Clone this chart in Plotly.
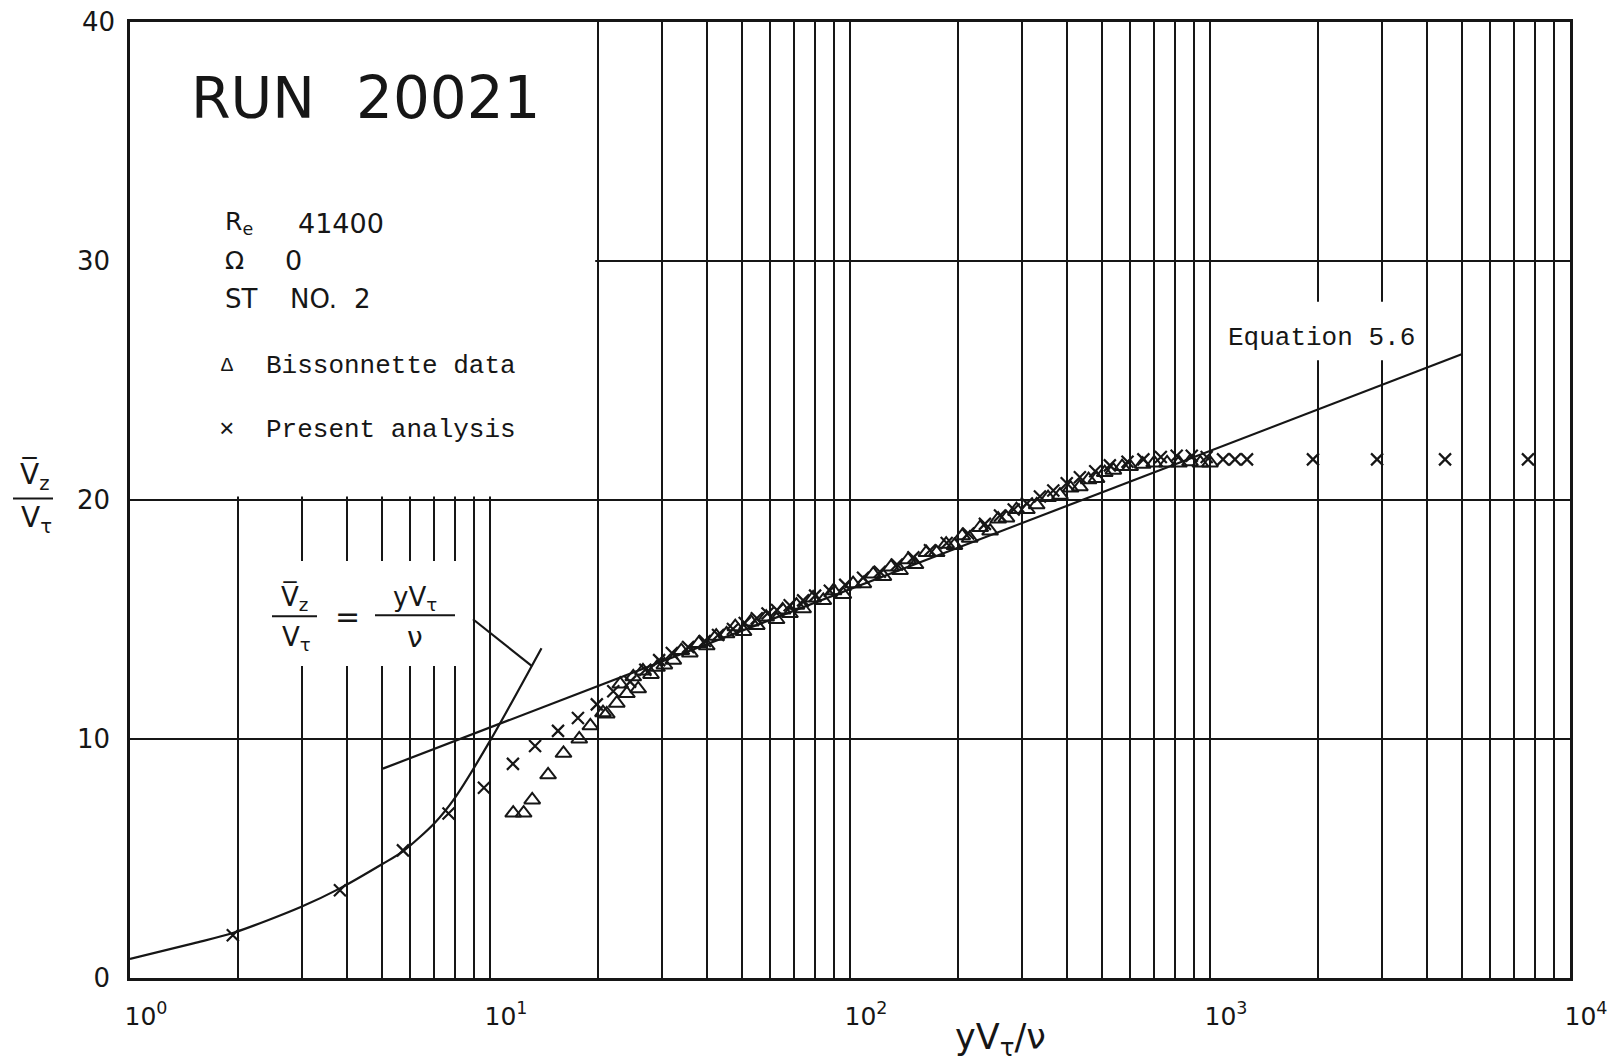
import plotly.graph_objects as go

# ---------------- data ----------------
# curve  Vz/Vtau = y Vtau / nu  (viscous sublayer)
lin_x = [1.0, 1.5, 1.93, 2.97, 3.83, 5.05, 5.73, 7.03, 8.0, 10.0, 13.9]
lin_y = [0.8, 1.45, 1.88, 2.96, 3.75, 4.79, 5.3, 6.5, 7.55, 9.92, 13.8]

# Equation 5.6 (log law, straight on the log axis)
eq_x = [5.04, 5000]
eq_y = [8.76, 26.1]

# Bissonnette data (triangles)
bis_x = [11.6, 12.4, 13.1, 14.5, 16.0, 17.7, 19.0, 20.6, 21.1, 22.5,
         23.0, 24.0, 25.0, 25.8, 26.6, 28.0, 29.1, 30.5, 32.3, 34.0,
         35.9, 38.0, 40.0, 42.5, 45.4, 48.0, 50.6, 53.0, 55.1, 58.5,
         62.5, 65.0, 68.1, 71.0, 74.1, 79.0, 84.3, 90.0, 95.8, 102,
         108.9, 116, 123.8, 130, 137.7, 145, 152, 163, 174, 185,
         195, 205, 215, 230, 245, 258, 272, 290, 310, 330,
         355, 383, 410, 435, 460, 484, 510, 539, 570, 600,
         650, 700, 760, 820, 880, 940, 1000]
bis_y = [6.9, 6.9, 7.45, 8.5, 9.4, 10.0, 10.55, 11.1, 11.05, 11.5,
         12.3, 11.9, 12.6, 12.1, 12.85, 12.7, 13.0, 13.1, 13.3, 13.7,
         13.6, 14.0, 13.9, 14.3, 14.4, 14.7, 14.5, 14.9, 14.75, 15.1,
         15.0, 15.4, 15.25, 15.6, 15.45, 15.9, 15.8, 16.2, 16.05, 16.5,
         16.5, 16.9, 16.8, 17.2, 17.05, 17.5, 17.3, 17.8, 17.8, 18.15,
         18.1, 18.5, 18.4, 18.85, 18.7, 19.2, 19.25, 19.6, 19.6, 19.8,
         20.1, 20.2, 20.5, 20.55, 20.85, 20.9, 21.15, 21.25, 21.4, 21.4,
         21.5, 21.55, 21.55, 21.55, 21.6, 21.55, 21.55]

# Present analysis (crosses)
pa_x = [1.93, 3.83, 5.73, 7.67, 9.62, 11.58, 13.34, 15.45, 17.55, 19.8,
        22, 24.5, 27, 29.5, 32, 35.5, 39.5, 43, 47.3, 51,
        55.1, 59, 62.7, 68, 74.1, 80, 87.9, 97, 108.7, 121,
        135, 150, 166.8, 185.6, 213, 237, 261, 285, 310, 337,
        367, 400, 435, 480, 527, 590, 653, 730, 808, 890,
        979, 1087, 1173, 1267, 1932, 2911, 4497, 7643]
pa_y = [1.79, 3.67, 5.34, 6.88, 7.96, 8.96, 9.71, 10.34, 10.88, 11.45,
        12.0, 12.4, 12.9, 13.3, 13.6, 13.85, 14.1, 14.35, 14.6, 14.85,
        15.05, 15.25, 15.4, 15.6, 15.8, 16.0, 16.2, 16.45, 16.75, 17.0,
        17.3, 17.6, 17.9, 18.2, 18.6, 19.0, 19.35, 19.6, 19.85, 20.15,
        20.4, 20.7, 20.95, 21.2, 21.45, 21.6, 21.7, 21.8, 21.85, 21.85,
        21.8, 21.7, 21.7, 21.7, 21.7, 21.7, 21.7, 21.7]

x_tickvals = [1, 10, 100, 1000, 10000]
x_ticktext = ["10<sup>0</sup>", "10<sup>1</sup>", "10<sup>2</sup>", "10<sup>3</sup>", "10<sup>4</sup>"]
y_tickvals = [0, 10, 20, 30, 40]
y_ticktext = ["0", "10", "20", "30", "40"]

# ---------------- layout geometry ----------------
W, H = 1623, 1062
OFF = 8                      # default page (body) margin of the html
BOX_L, BOX_T, BOX_R, BOX_B = 130, 19, 1570, 978   # plot box on the page
L, T = BOX_L - OFF, BOX_T - OFF
R, B = W - (BOX_R - OFF), H - (BOX_B - OFF)
PW, PH = BOX_R - BOX_L, BOX_B - BOX_T


def px(x):  # page pixel -> paper x
    return (x - BOX_L) / PW


def py(y):  # page pixel -> paper y
    return (BOX_B - y) / PH


PLOT_FONT = "DejaVu Sans"
TYPE_FONT = "Liberation Mono"
INK = "#161616"

fig = go.Figure()

fig.add_trace(go.Scatter(x=lin_x, y=lin_y, mode="lines",
                         line=dict(color=INK, width=2.2, shape="spline", smoothing=0.8),
                         hoverinfo="skip"))
fig.add_trace(go.Scatter(x=eq_x, y=eq_y, mode="lines",
                         line=dict(color=INK, width=2.2), hoverinfo="skip"))
fig.add_trace(go.Scatter(x=bis_x, y=bis_y, mode="markers",
                         marker=dict(symbol="triangle-up-open", size=14,
                                     color=INK, line=dict(width=2, color=INK))))
fig.add_trace(go.Scatter(x=pa_x, y=pa_y, mode="markers",
                         marker=dict(symbol="x-thin-open", size=12,
                                     color=INK, line=dict(width=2.2, color=INK))))

minor_vals = [m * 10 ** k for k in range(4) for m in range(2, 10)]

fig.update_xaxes(type="log", range=[0, 4],
                 tickvals=x_tickvals, ticktext=x_ticktext, ticks="",
                 tickfont=dict(family=PLOT_FONT, size=25, color=INK),
                 ticklabelshift=16, ticklabelstandoff=14,
                 showgrid=True, gridcolor=INK, gridwidth=2,
                 minor=dict(tickvals=minor_vals, showgrid=True, gridcolor=INK,
                            gridwidth=2, ticks=""),
                 showline=True, linecolor=INK, linewidth=2.5, mirror=True,
                 zeroline=False)
# the top label (40) sits at the page edge, so it is drawn as an annotation below
fig.update_yaxes(range=[0, 40], tickvals=y_tickvals,
                 ticktext=y_ticktext[:-1] + [""], ticks="",
                 tickfont=dict(family=PLOT_FONT, size=26, color=INK),
                 ticklabelstandoff=12,
                 showgrid=True, gridcolor=INK, gridwidth=2,
                 showline=True, linecolor=INK, linewidth=2.5, mirror=True,
                 zeroline=False)

shapes = [
    # white box of the legend / title panel (hides the grid)
    dict(type="rect", xref="x", yref="y", x0=1, x1=19.6, y0=20.15, y1=40,
         fillcolor="white", line=dict(width=0), layer="between"),
    # white box behind the equation label
    dict(type="rect", xref="x", yref="y", x0=2.06, x1=8.8, y0=13.05, y1=17.45,
         fillcolor="white", line=dict(width=0), layer="between"),
    # white box behind the "Equation 5.6" label
    dict(type="rect", xref="x", yref="y", x0=1080, x1=3830, y0=25.85, y1=28.3,
         fillcolor="white", line=dict(width=0), layer="between"),
    # leader line from the equation label to the curve
    dict(type="line", xref="x", yref="y", x0=8.97, y0=15.01, x1=13.08, y1=13.05,
         line=dict(color=INK, width=2.2), layer="above"),
    # fraction bars: y-axis title
    dict(type="line", xref="paper", yref="paper", x0=px(13), x1=px(53), y0=py(497), y1=py(497),
         line=dict(color=INK, width=2)),
    # fraction bars: equation label
    dict(type="line", xref="paper", yref="paper", x0=px(272), x1=px(317), y0=py(615), y1=py(615),
         line=dict(color=INK, width=2)),
    dict(type="line", xref="paper", yref="paper", x0=px(375), x1=px(455), y0=py(614), y1=py(614),
         line=dict(color=INK, width=2)),
]

annotations = []


def note(text, x, y, size, family=PLOT_FONT, xanchor="left", yanchor="middle"):
    annotations.append(dict(text=text, x=px(x), y=py(y), xref="paper", yref="paper",
                            showarrow=False, xanchor=xanchor, yanchor=yanchor,
                            font=dict(family=family, size=size, color=INK)))


note(y_ticktext[-1], 117, 19, 26, xanchor="right")
note("RUN", 189, 95, 57)
note("20021", 354, 95, 58)
note("R<sub>e</sub>", 223, 221, 25)
note("41400", 296, 221, 27)
note("Ω", 223, 258, 25)
note("0", 283, 258, 27)
note("ST", 223, 297, 26)
note("NO.", 288, 297, 26)
note("2", 352, 297, 26)
note("Δ", 227, 364, 20, family=TYPE_FONT, xanchor="center")
note("Bissonnette data", 264, 364, 26, family=TYPE_FONT)
note("×", 227, 428, 26, family=TYPE_FONT, xanchor="center")
note("Present analysis", 264, 428, 26, family=TYPE_FONT)
note("Equation 5.6", 1226, 336, 26, family=TYPE_FONT)

# y-axis title as a fraction
note("V\u0305<sub>z</sub>", 34, 474, 28, xanchor="center")
note("V<sub>τ</sub>", 36, 518, 28, xanchor="center")
# equation label
note("V\u0305<sub>z</sub>", 294, 597, 26, xanchor="center")
note("V<sub>τ</sub>", 296, 637, 26, xanchor="center")
note("=", 347, 615, 30, xanchor="center")
note("yV<sub>τ</sub>", 415, 597, 26, xanchor="center")
note("ν", 415, 636, 28, xanchor="center")
# x-axis title
note("yV<sub>τ</sub>/ν", 1000, 1040, 35, xanchor="center")

fig.update_layout(width=W, height=H, margin=dict(l=L, r=R, t=T, b=B),
                  paper_bgcolor="white", plot_bgcolor="white",
                  showlegend=False, shapes=shapes, annotations=annotations)

fig.write_html("out.html")
